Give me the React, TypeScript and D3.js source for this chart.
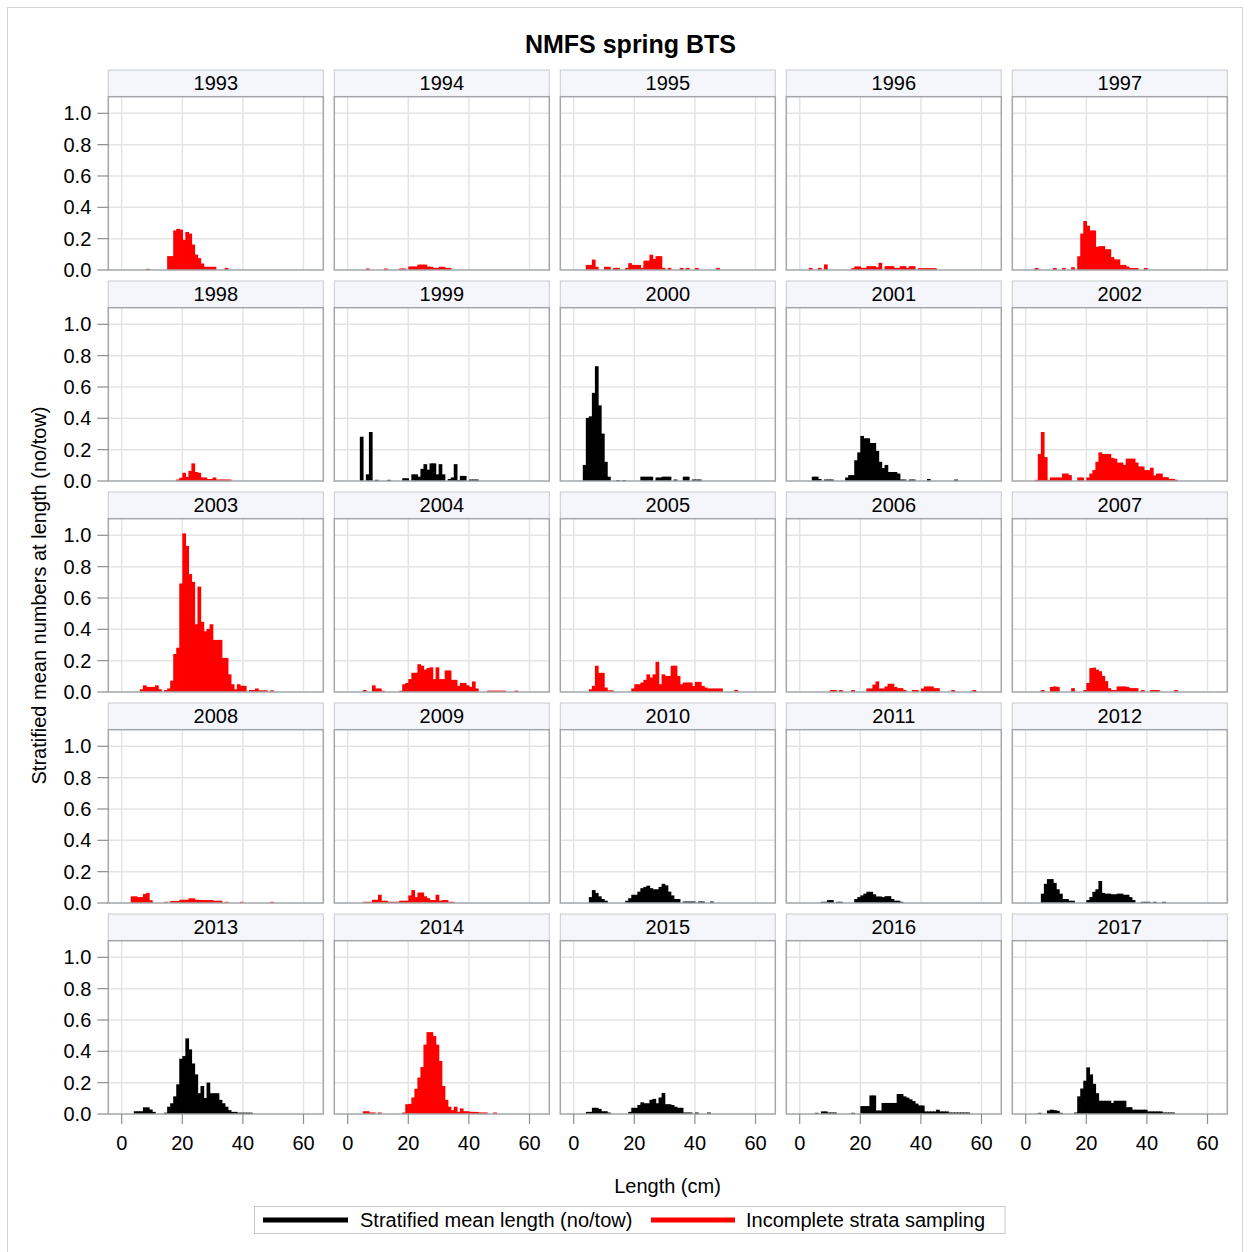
import React from "react";
import * as d3 from "d3";

const years = [1993, 1994, 1995, 1996, 1997, 1998, 1999, 2000, 2001, 2002, 2003, 2004, 2005, 2006, 2007, 2008, 2009, 2010, 2011, 2012, 2013, 2014, 2015, 2016, 2017];
const incompleteYears = [1993, 1994, 1995, 1996, 1997, 1998, 2002, 2003, 2004, 2005, 2006, 2007, 2008, 2009, 2014];
const xTicks = [0, 20, 40, 60];
const yTicks = [0, 0.2, 0.4, 0.6, 0.8, 1.0];

type P = [number, number][];
const y1993: P = [[8,.005],[15,.086],[16,.086],[17,.25],[18,.26],[19,.255],[20,.19],[21,.24],[22,.23],[23,.16],[24,.095],[25,.073],[26,.039],[27,.018],[28,.018],[29,.018],[30,.018],[34,.011]];
const y1994: P = [[6,.007],[12,.007],[17,.007],[18,.007],[20,.02],[21,.02],[22,.02],[23,.032],[24,.032],[25,.032],[26,.02],[27,.018],[28,.011],[29,.011],[30,.018],[31,.018],[32,.011],[33,.011]];
const y1995: P = [[4,.03],[5,.03],[6,.064],[7,.018],[10,.018],[11,.018],[13,.011],[14,.011],[17,.011],[18,.041],[19,.03],[20,.03],[21,.03],[22,.011],[23,.057],[24,.057],[25,.095],[26,.068],[27,.086],[28,.086],[29,.011],[31,.011],[35,.011],[37,.011],[40,.011],[47,.011]];
const y1996: P = [[3,.011],[6,.011],[8,.033],[17,.009],[18,.02],[19,.02],[20,.011],[21,.011],[22,.022],[23,.022],[24,.022],[25,.015],[26,.043],[28,.022],[29,.022],[30,.022],[31,.011],[32,.011],[33,.022],[34,.022],[35,.011],[36,.022],[37,.022],[39,.009],[40,.009],[41,.009],[42,.009],[43,.009],[44,.009]];
const y1997: P = [[3,.01],[9,.01],[12,.01],[15,.015],[17,.085],[18,.23],[19,.31],[20,.28],[21,.25],[22,.25],[23,.145],[24,.15],[25,.15],[26,.13],[27,.13],[28,.08],[29,.065],[30,.065],[31,.03],[32,.03],[33,.02],[34,.01],[35,.01],[36,.01],[39,.01]];
const y1998: P = [[18,.007],[19,.018],[20,.05],[21,.024],[22,.062],[23,.11],[24,.055],[25,.05],[26,.02],[27,.02],[28,.01],[29,.01],[30,.02],[31,.007],[32,.007],[33,.007],[34,.007],[35,.007]];
const y1999: P = [[4,.28],[6,.04],[7,.31],[9,.005],[13,.005],[18,.015],[19,.015],[21,.04],[22,.04],[23,.025],[24,.075],[25,.105],[26,.07],[27,.11],[28,.11],[29,.04],[30,.105],[31,.04],[33,.01],[34,.02],[35,.105],[36,.003],[37,.03],[38,.03],[40,.007],[41,.007],[42,.007]];
const y2000: P = [[3,.10],[4,.40],[5,.41],[6,.56],[7,.73],[8,.48],[9,.30],[10,.12],[11,.025],[14,.003],[16,.003],[22,.025],[23,.025],[24,.025],[25,.025],[27,.02],[28,.02],[29,.025],[30,.025],[31,.025],[33,.007],[36,.025],[37,.025],[39,.007],[40,.007],[41,.007]];
const y2001: P = [[4,.025],[5,.025],[6,.01],[8,.007],[9,.007],[10,.007],[15,.02],[16,.035],[17,.035],[18,.13],[19,.18],[20,.285],[21,.27],[22,.27],[23,.24],[24,.24],[25,.19],[26,.12],[27,.08],[28,.10],[29,.055],[30,.055],[31,.055],[32,.045],[33,.007],[34,.007],[36,.007],[37,.007],[42,.01],[51,.007]];
const y2002: P = [[3,.005],[4,.17],[5,.31],[6,.15],[7,.005],[8,.02],[9,.02],[10,.02],[11,.02],[12,.045],[13,.045],[14,.035],[17,.02],[18,.02],[20,.02],[21,.045],[22,.067],[23,.12],[24,.18],[25,.17],[26,.17],[27,.17],[28,.145],[29,.14],[30,.115],[31,.115],[32,.10],[33,.14],[34,.14],[35,.14],[36,.115],[37,.09],[38,.09],[39,.067],[40,.067],[41,.082],[42,.033],[43,.045],[44,.045],[45,.022],[46,.022],[47,.011],[48,.011],[49,.005]];
const y2003: P = [[6,.015],[7,.04],[8,.03],[9,.03],[10,.03],[11,.04],[12,.015],[14,.01],[15,.02],[16,.07],[17,.24],[18,.28],[19,.69],[20,1.01],[21,.93],[22,.75],[23,.70],[24,.43],[25,.67],[26,.445],[27,.385],[28,.40],[29,.43],[30,.33],[31,.33],[32,.33],[33,.215],[34,.215],[35,.11],[36,.047],[37,.015],[38,.047],[39,.037],[40,.037],[42,.01],[43,.01],[44,.02],[45,.008],[46,.008],[47,.008],[49,.008]];
const y2004: P = [[5,.01],[8,.04],[9,.02],[10,.02],[11,.005],[17,.005],[18,.047],[19,.055],[20,.08],[21,.12],[22,.12],[23,.175],[24,.165],[25,.14],[26,.15],[27,.155],[28,.08],[29,.155],[30,.08],[31,.08],[32,.135],[33,.135],[34,.075],[35,.075],[36,.037],[37,.055],[38,.055],[39,.04],[40,.03],[41,.065],[42,.02],[46,.006],[47,.006],[48,.006],[49,.006],[50,.006],[51,.006],[55,.006]];
const y2005: P = [[5,.015],[6,.037],[7,.165],[8,.12],[9,.12],[10,.026],[11,.008],[12,.008],[19,.02],[20,.047],[21,.047],[22,.058],[23,.075],[24,.11],[25,.09],[26,.11],[27,.19],[28,.047],[29,.11],[30,.10],[31,.10],[32,.165],[33,.165],[34,.10],[35,.047],[36,.058],[37,.058],[38,.058],[39,.037],[40,.062],[41,.062],[42,.037],[43,.026],[44,.02],[45,.02],[46,.02],[47,.02],[48,.02],[53,.01]];
const y2006: P = [[10,.01],[11,.01],[13,.01],[17,.01],[22,.02],[23,.02],[24,.045],[25,.065],[26,.02],[27,.02],[28,.033],[29,.05],[30,.05],[31,.03],[32,.022],[33,.022],[34,.01],[37,.01],[38,.01],[40,.02],[41,.033],[42,.033],[43,.033],[44,.022],[45,.022],[50,.01],[57,.01]];
const y2007: P = [[5,.01],[8,.03],[9,.033],[10,.03],[15,.022],[19,.01],[20,.055],[21,.15],[22,.153],[23,.14],[24,.13],[25,.10],[26,.067],[27,.022],[28,.01],[29,.01],[30,.033],[31,.033],[32,.033],[33,.03],[34,.022],[35,.022],[36,.022],[38,.01],[41,.01],[42,.01],[43,.01],[49,.01]];
const y2008: P = [[3,.04],[4,.04],[5,.035],[6,.035],[7,.055],[8,.062],[9,.015],[14,.005],[16,.01],[17,.01],[18,.01],[19,.018],[20,.018],[21,.018],[22,.027],[23,.027],[24,.018],[25,.018],[26,.016],[27,.016],[28,.016],[29,.016],[30,.012],[31,.012],[32,.012],[34,.005],[39,.005],[49,.005]];
const y2009: P = [[5,.005],[6,.005],[7,.005],[8,.018],[9,.018],[10,.05],[11,.012],[12,.012],[13,.005],[14,.005],[15,.005],[16,.005],[17,.012],[18,.012],[19,.012],[20,.046],[21,.08],[22,.035],[23,.064],[24,.064],[25,.04],[26,.028],[27,.016],[28,.016],[29,.05],[30,.012],[31,.016],[32,.016],[33,.005],[34,.005]];
const y2010: P = [[5,.035],[6,.08],[7,.062],[8,.04],[9,.023],[10,.012],[17,.012],[18,.028],[19,.05],[20,.05],[21,.07],[22,.092],[23,.10],[24,.108],[25,.092],[26,.085],[27,.085],[28,.10],[29,.12],[30,.11],[31,.07],[32,.046],[33,.023],[34,.023],[36,.007],[37,.007],[38,.007],[39,.007],[41,.007],[42,.007],[45,.007]];
const y2011: P = [[7,.005],[8,.005],[9,.016],[10,.016],[12,.005],[13,.005],[18,.023],[19,.035],[20,.046],[21,.057],[22,.069],[23,.069],[24,.053],[25,.039],[26,.039],[27,.035],[28,.041],[29,.041],[30,.023],[31,.012],[32,.012],[33,.005]];
const y2012: P = [[5,.057],[6,.12],[7,.15],[8,.15],[9,.126],[10,.085],[11,.057],[12,.023],[13,.023],[14,.012],[15,.012],[20,.016],[21,.035],[22,.069],[23,.085],[24,.138],[25,.062],[26,.057],[27,.057],[28,.053],[29,.053],[30,.057],[31,.057],[32,.05],[33,.05],[34,.035],[35,.016],[38,.005],[39,.005],[40,.005],[42,.005],[45,.005]];
const y2013: P = [[4,.015],[5,.015],[6,.015],[7,.04],[8,.04],[9,.026],[10,.011],[14,.006],[15,.044],[16,.066],[17,.11],[18,.187],[19,.35],[20,.367],[21,.48],[22,.41],[23,.32],[24,.25],[25,.13],[26,.176],[27,.10],[28,.198],[29,.13],[30,.13],[31,.13],[32,.088],[33,.066],[34,.044],[35,.022],[36,.011],[37,.011],[38,.006],[39,.006],[40,.006],[41,.006],[42,.006]];
const y2014: P = [[5,.015],[6,.015],[7,.007],[8,.007],[10,.007],[18,.007],[19,.06],[20,.062],[21,.103],[22,.158],[23,.23],[24,.297],[25,.44],[26,.52],[27,.52],[28,.495],[29,.44],[30,.336],[31,.176],[32,.088],[33,.044],[34,.022],[35,.044],[36,.011],[37,.033],[38,.015],[39,.015],[40,.011],[41,.011],[42,.011],[43,.007],[44,.007],[45,.007],[48,.007]];
const y2015: P = [[4,.011],[5,.011],[6,.037],[7,.037],[8,.03],[9,.015],[10,.015],[11,.007],[18,.011],[19,.037],[20,.037],[21,.055],[22,.072],[23,.066],[24,.066],[25,.088],[26,.094],[27,.066],[28,.103],[29,.132],[30,.06],[31,.06],[32,.055],[33,.044],[34,.037],[35,.037],[36,.007],[37,.007],[38,.007],[40,.007],[44,.007]];
const y2016: P = [[5,.005],[7,.014],[8,.014],[9,.007],[10,.007],[11,.007],[17,.005],[20,.048],[21,.048],[22,.048],[23,.116],[24,.116],[25,.02],[26,.02],[27,.068],[28,.068],[29,.068],[30,.068],[31,.068],[32,.125],[33,.125],[34,.11],[35,.102],[36,.091],[37,.08],[38,.064],[39,.052],[40,.052],[41,.014],[42,.014],[43,.014],[44,.014],[45,.025],[46,.014],[47,.014],[48,.014],[49,.007],[50,.007],[51,.007],[52,.007],[53,.007],[54,.007],[55,.007]];
const y2017: P = [[4,.005],[7,.02],[8,.025],[9,.022],[10,.018],[11,.005],[16,.007],[17,.11],[18,.16],[19,.21],[20,.295],[21,.25],[22,.19],[23,.13],[24,.082],[25,.082],[26,.082],[27,.082],[28,.068],[29,.082],[30,.082],[31,.082],[32,.082],[33,.041],[34,.041],[35,.025],[36,.025],[37,.025],[38,.025],[39,.025],[40,.014],[41,.014],[42,.014],[43,.014],[44,.014],[45,.007],[46,.007],[47,.007],[48,.007]];

const seriesByYear: P[] = [y1993, y1994, y1995, y1996, y1997, y1998, y1999, y2000, y2001, y2002, y2003, y2004, y2005, y2006, y2007, y2008, y2009, y2010, y2011, y2012, y2013, y2014, y2015, y2016, y2017];

const FONT = "'Liberation Sans', Arial, Helvetica, sans-serif";
const W = 1250, H = 1252;
const left0 = 108.3, top0 = 70, colStep = 226, rowStep = 211;
const pw = 215, hh = 26.7, ph = 173.3;

export default function App() {
  const x = d3.scaleLinear().domain([-4.42, 66.53]).range([0, pw]);
  const y = d3.scaleLinear().domain([0, 1.106]).range([ph, 0]);
  return (
    <svg width={W} height={H} style={{ position: "absolute", left: 0, top: 0, background: "#fff" }} fontFamily={FONT}>
      <rect x={7.5} y={7.5} width={1235} height={1270} fill="#fff" stroke="#d3d3d3" strokeWidth={1} />
      <text x={630.5} y={53} textAnchor="middle" fontSize={25} fontWeight="bold" fill="#000">NMFS spring BTS</text>
      {years.map((yr, i) => {
        const c = i % 5, r = Math.floor(i / 5);
        const px = left0 + c * colStep, py = top0 + r * rowStep;
        const color = incompleteYears.includes(yr) ? "#ff0000" : "#000000";
        const data = seriesByYear[i];
        return (
          <g key={yr} transform={`translate(${px},${py})`}>
            <rect x={0} y={0} width={pw} height={hh} fill="#f5f6fb" stroke="#c6c9ce" strokeWidth={1} />
            <text x={pw / 2} y={20} textAnchor="middle" fontSize={20} fill="#000">{yr}</text>
            <g transform={`translate(0,${hh})`}>
              <rect x={0} y={0} width={pw} height={ph} fill="#fff" />
              {xTicks.map((t) => (
                <line key={"gx" + t} x1={x(t)} x2={x(t)} y1={0} y2={ph} stroke="#e4e4e4" strokeWidth={1.5} />
              ))}
              {yTicks.filter((t) => t > 0).map((t) => (
                <line key={"gy" + t} x1={0} x2={pw} y1={y(t)} y2={y(t)} stroke="#e4e4e4" strokeWidth={1.5} />
              ))}
              {data.map(([L, v]) => (
                <rect key={L} x={x(L)} y={y(v) - 0.4} width={x(L + 1) - x(L) + 0.7} height={Math.max(1, y(0) - y(v) + 0.4)} fill={color} />
              ))}
              <rect x={0} y={0} width={pw} height={ph} fill="none" stroke="#a3a7ab" strokeWidth={1.5} />
              {c === 0 && yTicks.map((t) => (
                <g key={"ty" + t}>
                  <line x1={-11} x2={0} y1={y(t)} y2={y(t)} stroke="#8a8e92" strokeWidth={1.2} />
                  <text x={-17} y={y(t)} dy="0.35em" textAnchor="end" fontSize={20} fill="#000">{t.toFixed(1)}</text>
                </g>
              ))}
              {r === 4 && xTicks.map((t) => (
                <g key={"tx" + t}>
                  <line x1={x(t)} x2={x(t)} y1={ph} y2={ph + 10} stroke="#8a8e92" strokeWidth={1.2} />
                  <text x={x(t)} y={ph + 36} textAnchor="middle" fontSize={20} fill="#000">{t}</text>
                </g>
              ))}
            </g>
          </g>
        );
      })}
      <text transform="translate(46,595.5) rotate(-90)" textAnchor="middle" fontSize={20} fill="#000">Stratified mean numbers at length (no/tow)</text>
      <text x={667.5} y={1193} textAnchor="middle" fontSize={20} fill="#000">Length (cm)</text>
      <rect x={254.5} y={1206.5} width={750.5} height={27} fill="#fff" stroke="#c8c8c8" strokeWidth={1} />
      <line x1={263} x2={348} y1={1220} y2={1220} stroke="#000" strokeWidth={5} />
      <text x={360} y={1227} fontSize={20} fill="#000">Stratified mean length (no/tow)</text>
      <line x1={651} x2={735} y1={1220} y2={1220} stroke="#ff0000" strokeWidth={5} />
      <text x={746} y={1227} fontSize={20} fill="#000">Incomplete strata sampling</text>
    </svg>
  );
}
